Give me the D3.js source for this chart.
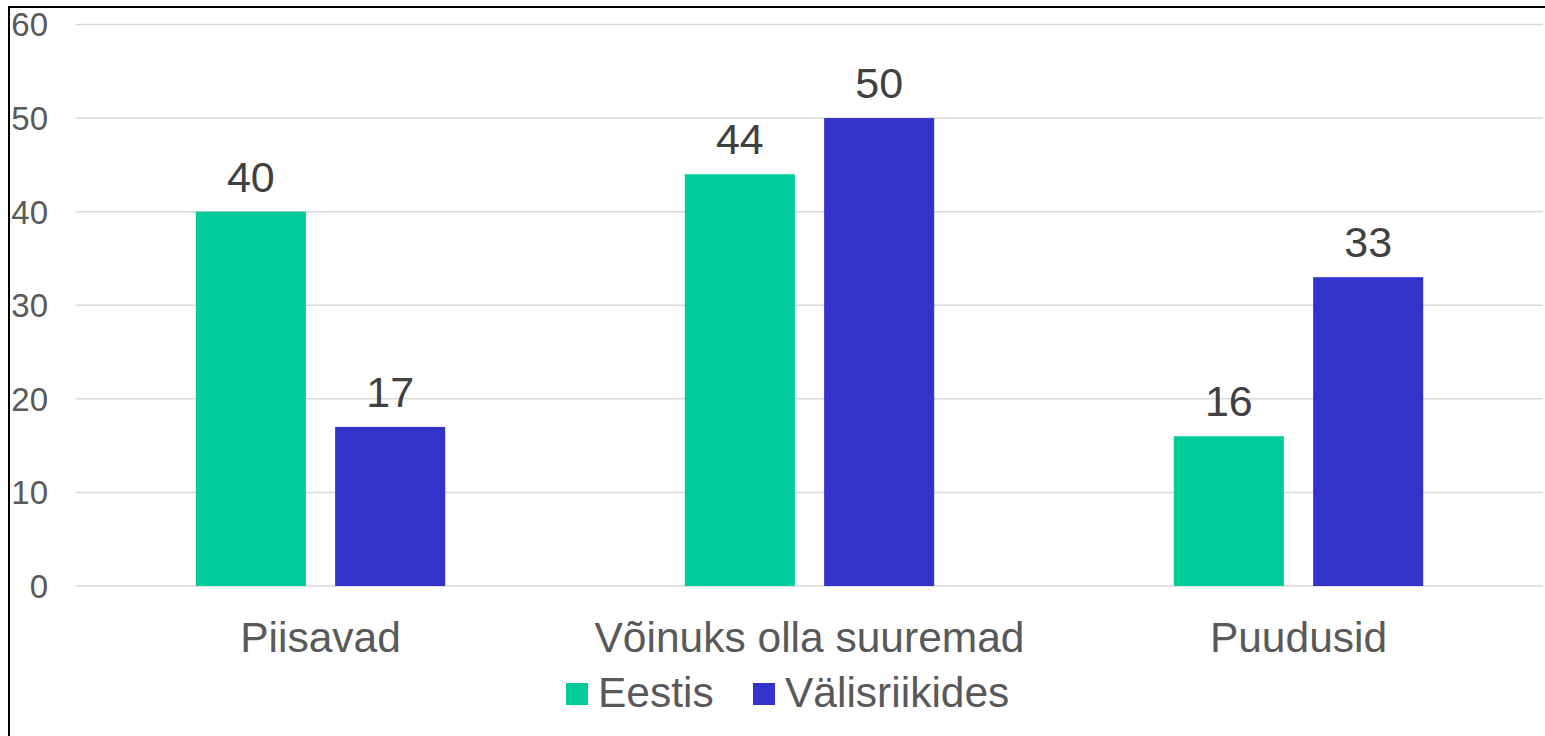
<!DOCTYPE html>
<html>
<head>
<meta charset="utf-8">
<script src="https://cdn.jsdelivr.net/npm/d3@7"></script>
<style>
  body { margin: 0; background: #fff; }
  svg { display: block; font-family: Arial, "Liberation Sans", sans-serif; }
</style>
</head>
<body>
<div id="chart"></div>
<script>
var categories = ["Piisavad", "Võinuks olla suuremad", "Puudusid"];
var series = ["Eestis", "Välisriikides"];
var eestis = [40, 44, 16];
var valisriikides = [17, 50, 33];
var yTicks = [0, 10, 20, 30, 40, 50, 60];
var colors = ["#00cc99", "#3333cc"];

var width = 1545, height = 736;
var margin = {top: 24.5, right: 2, bottom: 150, left: 76};

var rows = categories.map(function (c, i) {
    return {cat: c, values: [eestis[i], valisriikides[i]]};
});

var svg = d3.select("#chart").append("svg")
    .attr("width", width)
    .attr("height", height);

// outer frame, cut off at right and bottom like the original
svg.append("rect")
    .attr("x", 9).attr("y", 7)
    .attr("width", width + 20).attr("height", height + 20)
    .attr("fill", "none")
    .attr("stroke", "#000")
    .attr("stroke-width", 2);

var x0 = d3.scaleBand()
    .domain(categories)
    .range([margin.left, width - margin.right])
    .paddingInner(0.49)
    .paddingOuter(0.245);

var x1 = d3.scaleBand()
    .domain(series)
    .range([0, x0.bandwidth()])
    .paddingInner(0.21);

var y = d3.scaleLinear()
    .domain([0, 60])
    .range([586, margin.top]);

// gridlines
svg.append("g")
    .selectAll("line")
    .data(yTicks)
    .enter().append("line")
    .attr("x1", margin.left)
    .attr("x2", width - margin.right)
    .attr("y1", function (d) { return y(d); })
    .attr("y2", function (d) { return y(d); })
    .attr("stroke", "#d9d9d9")
    .attr("stroke-width", 1.5);

// y tick labels
svg.append("g")
    .selectAll("text")
    .data(yTicks)
    .enter().append("text")
    .attr("x", 48)
    .attr("y", function (d) { return y(d); })
    .attr("dy", "0.36em")
    .attr("text-anchor", "end")
    .attr("fill", "#595959")
    .style("font-size", "33px")
    .text(function (d) { return d; });

var group = svg.append("g")
    .selectAll("g")
    .data(rows)
    .enter().append("g")
    .attr("transform", function (d) { return "translate(" + x0(d.cat) + ",0)"; });

var bars = group.selectAll("g")
    .data(function (d) { return d.values.map(function (v, i) { return {key: series[i], value: v, i: i}; }); })
    .enter();

bars.append("rect")
    .attr("x", function (d) { return x1(d.key); })
    .attr("y", function (d) { return y(d.value); })
    .attr("width", x1.bandwidth())
    .attr("height", function (d) { return y(0) - y(d.value); })
    .attr("fill", function (d) { return colors[d.i]; });

bars.append("text")
    .attr("x", function (d) { return x1(d.key) + x1.bandwidth() / 2; })
    .attr("y", function (d) { return y(d.value) - 20; })
    .attr("text-anchor", "middle")
    .attr("fill", "#404040")
    .style("font-size", "43px")
    .text(function (d) { return d.value; });

// category labels
svg.append("g")
    .selectAll("text")
    .data(categories)
    .enter().append("text")
    .attr("x", function (d) { return x0(d) + x0.bandwidth() / 2; })
    .attr("y", 652)
    .attr("text-anchor", "middle")
    .attr("fill", "#595959")
    .style("font-size", "42.5px")
    .text(function (d) { return d; });

// legend
var legendX = [566, 753];
var legend = svg.append("g")
    .selectAll("g")
    .data(series)
    .enter().append("g")
    .attr("transform", function (d, i) { return "translate(" + legendX[i] + ",683)"; });

legend.append("rect")
    .attr("width", 22).attr("height", 22)
    .attr("fill", function (d, i) { return colors[i]; });

legend.append("text")
    .attr("x", 32)
    .attr("y", 24)
    .attr("fill", "#595959")
    .style("font-size", "42.5px")
    .text(function (d) { return d; });
</script>
</body>
</html>
